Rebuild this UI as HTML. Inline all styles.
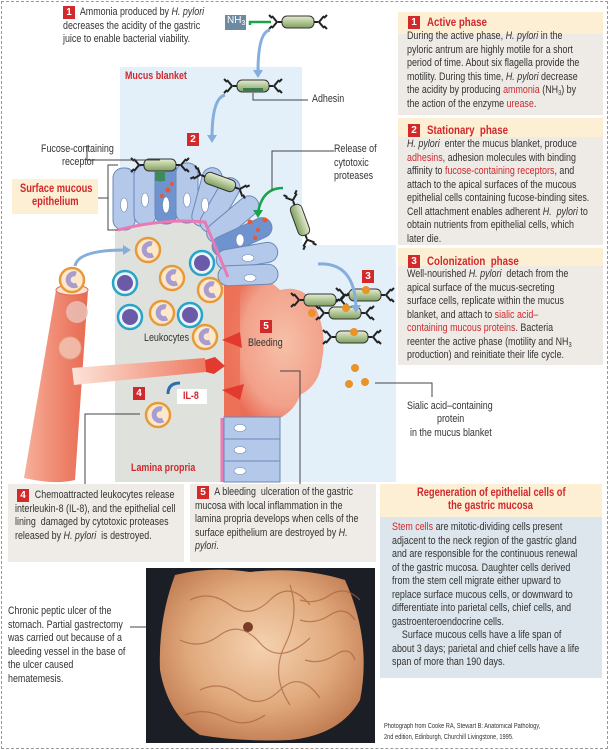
<!DOCTYPE html>
<html><head><meta charset="utf-8"><style>
html,body{margin:0;padding:0;background:#fff}
#w{position:relative;width:609px;height:750px;overflow:hidden;font-family:"Liberation Sans",sans-serif;color:#333}
.frame{position:absolute;left:1px;top:1px;width:605px;height:746px;border:1px dashed #999}
.t{position:absolute;font-size:11px;line-height:13.5px;white-space:pre;transform:scaleX(.81);transform-origin:0 0}
.r{color:#d0282e}
.b{font-weight:bold}
.bx{position:absolute}
.bd{display:inline-block;background:#d22a2a;color:#fff;font-weight:bold;font-size:10px;width:12px;height:13px;line-height:13px;text-align:center;vertical-align:top}
i{font-style:italic}
sub{font-size:7px;line-height:0;vertical-align:-2px}
</style></head><body><div id="w">
<svg width="609" height="750" style="position:absolute;left:0;top:0">
<defs>
<radialGradient id="cr" cx="0.6" cy="0.5" r="0.6"><stop offset="0" stop-color="#f7c0a8"/><stop offset="0.7" stop-color="#f2a08a"/><stop offset="1" stop-color="#ea6d55"/></radialGradient>
<linearGradient id="ves" x1="0" x2="1"><stop offset="0" stop-color="#f6b09c"/><stop offset="0.5" stop-color="#f08a72"/><stop offset="1" stop-color="#e86a52"/></linearGradient>
<linearGradient id="hv" x1="0" x2="1"><stop offset="0" stop-color="#fde3d8"/><stop offset="1" stop-color="#ee7b62"/></linearGradient>
<linearGradient id="bac" x1="0" y1="0" x2="0" y2="1"><stop offset="0" stop-color="#e6edd2"/><stop offset="1" stop-color="#7f9f5e"/></linearGradient>
<radialGradient id="ph" cx="0.5" cy="0.45" r="0.6"><stop offset="0" stop-color="#f5d2b0"/><stop offset="0.6" stop-color="#e0a97c"/><stop offset="1" stop-color="#c07a50"/></radialGradient>
<g id="bug"><path d="M-26,-6 l5,6 -5,6 M-26,-4 l-3,-3 M-26,4 l-3,3 M26,-6 l-5,6 5,6 M26,-4 l3,-3 M26,4 l3,3" stroke="#222" stroke-width="2" fill="none"/><rect x="-16" y="-6" width="32" height="12" rx="5" fill="url(#bac)" stroke="#333" stroke-width="1"/><line x1="-20" y1="0" x2="-16" y2="0" stroke="#222" stroke-width="2"/><line x1="16" y1="0" x2="20" y2="0" stroke="#222" stroke-width="2"/></g>
<g id="lo"><circle r="12" fill="#fde9c9" stroke="#e79a3a" stroke-width="2.5"/><path d="M4,-6 a6,6 0 1 0 1,11" stroke="#a89cd0" stroke-width="5" fill="none"/></g>
<g id="lb"><circle r="12" fill="#e8f6fb" stroke="#2aa3c9" stroke-width="2.5"/><circle r="8" fill="#6a5aa8"/></g>
</defs>
<rect x="120" y="67" width="182" height="415" fill="#e3f0fa"/>
<rect x="302" y="245" width="94" height="237" fill="#e3f0fa"/>
<path d="M115,229 Q160,218 205,222 L228,277 L226,482 L115,482 Z" fill="#dfe2dc"/>
<path d="M224,272 Q250,262 280,290 Q300,285 312,300 Q328,330 322,360 Q320,385 300,395 Q295,410 280,418 L224,418 Z" fill="url(#cr)"/>
<path d="M224,275 L240,275 L240,418 L224,418Z" fill="#ec7258" opacity=".8"/>
<g fill="#b4c9ea" stroke="#6d88b8" stroke-width="1">
<rect x="113" y="168" width="22" height="62" rx="10"/>
<rect x="134" y="165" width="22" height="60" rx="10"/>
<rect x="155" y="162" width="22" height="62" rx="10" fill="#6f93cf"/>
<rect x="176" y="163" width="22" height="60" rx="10"/>
<rect x="197" y="167" width="20" height="60" rx="10" transform="rotate(15 207 197)"/>
<rect x="210" y="175" width="20" height="60" rx="10" transform="rotate(30 220 205)"/>
<rect x="222" y="188" width="20" height="62" rx="10" transform="rotate(50 232 220)"/>
<rect x="232" y="205" width="20" height="64" rx="10" transform="rotate(65 242 237)" fill="#6f93cf"/>
<rect x="237" y="225" width="20" height="62" rx="10" transform="rotate(80 247 256)"/>
<rect x="238" y="245" width="20" height="60" rx="10" transform="rotate(88 248 275)"/>
</g>
<g fill="#fff" stroke="#6d88b8" stroke-width=".6">
<ellipse cx="124" cy="205" rx="3.5" ry="7"/><ellipse cx="145" cy="200" rx="3.5" ry="7"/><ellipse cx="166" cy="205" rx="3.5" ry="8"/><ellipse cx="187" cy="200" rx="3.5" ry="7"/><ellipse cx="205" cy="205" rx="3.5" ry="7"/><ellipse cx="240" cy="240" rx="4" ry="6"/><ellipse cx="248" cy="258" rx="6" ry="3.5"/><ellipse cx="250" cy="278" rx="6" ry="3.5"/>
</g>
<g fill="#e8582e"><circle cx="160" cy="180" r="2"/><circle cx="168" cy="190" r="2.5"/><circle cx="162" cy="196" r="2"/><circle cx="172" cy="184" r="2"/><circle cx="250" cy="222" r="2.5"/><circle cx="258" cy="230" r="2"/><circle cx="265" cy="220" r="2.5"/><circle cx="255" cy="238" r="2"/></g>
<path d="M118,230 Q165,218 205,222 L228,277" stroke="#e87ab5" stroke-width="3" fill="none"/>
<line x1="222" y1="418" x2="222" y2="482" stroke="#e87ab5" stroke-width="3"/>
<g fill="#b4c9ea" stroke="#6d88b8"><rect x="224" y="417" width="56" height="22"/><rect x="224" y="439" width="56" height="22"/><rect x="224" y="461" width="56" height="21"/></g>
<g fill="#fff" stroke="#6d88b8" stroke-width=".6"><ellipse cx="240" cy="428" rx="6" ry="3.5"/><ellipse cx="240" cy="450" rx="6" ry="3.5"/><ellipse cx="240" cy="471" rx="6" ry="3.5"/></g>
<path d="M56,290 L88,290 L75,480 Q55,485 24,478 Z" fill="url(#ves)"/>
<ellipse cx="72" cy="290" rx="16" ry="5" fill="#fbe2d9" stroke="#e06a50"/>
<path d="M72,368 L205,358 L206,372 L74,385 Z" fill="url(#hv)"/>
<path d="M205,360 L215,357 L225,366 L214,374 L206,372Z" fill="#e33a30"/>
<path d="M222,340 L240,332 L242,348 Z M222,390 L244,384 L240,400Z" fill="#e33a30"/>
<use href="#lo" x="148" y="250"/><use href="#lo" x="172" y="278"/><use href="#lo" x="210" y="290"/><use href="#lo" x="162" y="313"/><use href="#lo" x="205" y="337"/><use href="#lo" x="72" y="280"/><use href="#lo" x="158" y="415"/>
<use href="#lb" x="125" y="283"/><use href="#lb" x="202" y="263"/><use href="#lb" x="130" y="317"/><use href="#lb" x="190" y="315"/>
<circle cx="77" cy="312" r="11" fill="#e9c4ba" opacity=".8"/><circle cx="70" cy="348" r="11" fill="#f2c9b8" stroke="#e8b08a" opacity=".8"/>
<use href="#bug" x="298" y="22"/>
<use href="#bug" x="253" y="86"/><rect x="243" y="88" width="20" height="4" fill="#3d7a50"/>
<use href="#bug" x="160" y="165"/><rect x="155" y="171" width="10" height="10" fill="#3d8a5a"/>
<use href="#bug" transform="translate(220,182) rotate(20)"/>
<use href="#bug" transform="translate(300,220) rotate(70)"/>
<use href="#bug" x="320" y="300"/>
<use href="#bug" x="365" y="295"/><use href="#bug" x="345" y="313"/><use href="#bug" x="352" y="337"/>
<g fill="#ea9326"><circle cx="312" cy="313" r="4"/><circle cx="366" cy="290" r="4"/><circle cx="346" cy="308" r="4"/><circle cx="354" cy="332" r="4"/><circle cx="355" cy="368" r="4"/><circle cx="349" cy="384" r="4"/><circle cx="365" cy="382" r="4"/></g>
<rect x="225" y="15" width="21" height="15" fill="#6d8aa0"/>
<path d="M271,22 L250,22 L250,25" stroke="#1aa34a" stroke-width="2.5" fill="none"/>
<g stroke="#86aedc" stroke-width="3" fill="none"><path d="M270,30 Q258,32 258,72"/><path d="M225,95 Q212,98 212,138"/><path d="M75,266 Q78,250 125,250"/><path d="M318,264 Q355,262 356,308"/></g>
<g fill="#86aedc"><path d="M253,70 L263,70 L258,78Z"/><path d="M207,135 L217,135 L212,143Z"/><path d="M123,245 L131,250 L123,255Z"/><path d="M351,305 L361,305 L356,313Z"/></g>
<path d="M283,188 Q262,188 258,213" stroke="#1aa34a" stroke-width="2.5" fill="none"/><path d="M253,210 L263,210 L258,218Z" fill="#1aa34a"/>
<path d="M168,394 Q168,383 180,383" stroke="#2d6db0" stroke-width="3" fill="none"/>
<g stroke="#444" stroke-width="1" fill="none">
<path d="M253,93 V100 H308"/><path d="M87,145 V160 H160"/><path d="M334,151 H272 V190"/>
<path d="M118,165 H108 V230 H118 M98,198 H108"/>
<path d="M85,484 V414 H140"/><path d="M280,371 H300 V484"/><path d="M375,383 H432 V397"/>
<path d="M130,627 H245"/>
</g>
<rect x="177" y="389" width="30" height="15" fill="#fff"/>
<rect x="398" y="12" width="205" height="22" fill="#fcefd3"/><rect x="398" y="34" width="205" height="81" fill="#eeebe6"/>
<rect x="398" y="118" width="205" height="19" fill="#fcefd3"/><rect x="398" y="137" width="205" height="108" fill="#eeebe6"/>
<rect x="398" y="248" width="205" height="18" fill="#fcefd3"/><rect x="398" y="266" width="205" height="99" fill="#eeebe6"/>
<rect x="12" y="179" width="86" height="35" fill="#fcefd3"/>
<rect x="8" y="484" width="176" height="78" fill="#efece7"/>
<rect x="190" y="484" width="186" height="78" fill="#efece7"/>
<rect x="380" y="484" width="222" height="33" fill="#fcefd3"/>
<rect x="380" y="517" width="222" height="161" fill="#dde6ec"/>
<rect x="146" y="568" width="229" height="175" fill="#1c1e26"/>
<path d="M175,575 Q210,566 250,572 Q300,566 345,580 Q372,640 360,700 Q340,735 290,740 Q240,742 200,735 Q168,715 160,670 Q158,620 175,575Z" fill="url(#ph)"/>
<g stroke="#a8603c" stroke-width="1.2" fill="none" opacity=".7"><path d="M190,600 q20,-10 40,5 t40,-5 t40,5"/><path d="M180,640 q20,10 40,-5 t40,8 t50,-5"/><path d="M200,690 q20,-10 40,5 t40,-5 t40,8"/><path d="M290,585 q10,30 -5,60 t5,60"/><path d="M300,600 q15,5 30,-5 t30,5"/><path d="M300,620 q15,5 30,-5 t25,5"/><path d="M305,660 q15,5 30,-5 t20,5"/><path d="M185,715 q20,-8 40,3 t40,-3"/></g>
<circle cx="248" cy="627" r="5" fill="#7a3d28"/>
</svg>
<div class="frame"></div>

<span class="bd bx" style="left:63px;top:6px">1</span>
<div class="t" style="left:63px;top:6px">       Ammonia produced by <i>H. pylori</i>
decreases the acidity of the gastric
juice to enable bacterial viability.</div>
<div class="bx" style="left:227px;top:15px;color:#fff;font-size:10px">NH<sub>3</sub></div>
<div class="t r b" style="left:125px;top:70px">Mucus blanket</div>
<div class="t" style="left:312px;top:93px">Adhesin</div>
<div class="t" style="left:41px;top:143px">Fucose-containing</div>
<div class="t" style="left:62px;top:156px">receptor</div>
<div class="t" style="left:334px;top:143px">Release of
cytotoxic
proteases</div>
<div class="t r b" style="left:20px;top:183px;font-size:11.5px">Surface mucous</div>
<div class="t r b" style="left:32px;top:196px;font-size:11.5px">epithelium</div>
<span class="bd bx" style="left:187px;top:133px">2</span>
<span class="bd bx" style="left:362px;top:270px">3</span>
<span class="bd bx" style="left:260px;top:320px">5</span>
<span class="bd bx" style="left:133px;top:387px">4</span>
<div class="t" style="left:144px;top:332px">Leukocytes</div>
<div class="t" style="left:248px;top:337px">Bleeding</div>
<div class="t r b" style="left:183px;top:390px">IL-8</div>
<div class="t r b" style="left:131px;top:462px">Lamina propria</div>
<div class="t" style="left:407px;top:400px">Sialic acid–containing</div>
<div class="t" style="left:437px;top:413px">protein</div>
<div class="t" style="left:410px;top:427px">in the mucus blanket</div>

<span class="bd bx" style="left:408px;top:16px">1</span>
<div class="t r b" style="left:427px;top:16px;font-size:12px">Active phase</div>
<div class="t" style="left:407px;top:30px">During the active phase, <i>H. pylori</i> in the
pyloric antrum are highly motile for a short
period of time. About six flagella provide the
motility. During this time, <i>H. pylori</i> decrease
the acidity by producing <span class="r">ammonia</span> (NH<sub>3</sub>) by
the action of the enzyme <span class="r">urease</span>.</div>
<span class="bd bx" style="left:408px;top:124px">2</span>
<div class="t r b" style="left:427px;top:124px;font-size:12px">Stationary  phase</div>
<div class="t" style="left:407px;top:138px"><i>H. pylori</i>  enter the mucus blanket, produce
<span class="r">adhesins</span>, adhesion molecules with binding
affinity to <span class="r">fucose-containing receptors</span>, and
attach to the apical surfaces of the mucous
epithelial cells containing fucose-binding sites.
Cell attachment enables adherent <i>H.  pylori</i> to
obtain nutrients from epithelial cells, which
later die.</div>
<span class="bd bx" style="left:408px;top:255px">3</span>
<div class="t r b" style="left:427px;top:255px;font-size:12px">Colonization  phase</div>
<div class="t" style="left:407px;top:268px">Well-nourished <i>H. pylori</i>  detach from the
apical surface of the mucus-secreting
surface cells, replicate within the mucus
blanket, and attach to <span class="r">sialic acid–</span>
<span class="r">containing mucous proteins</span>. Bacteria
reenter the active phase (motility and NH<sub>3</sub>
production) and reinitiate their life cycle.</div>

<span class="bd bx" style="left:17px;top:489px">4</span>
<div class="t" style="left:15px;top:489px">        Chemoattracted leukocytes release
interleukin-8 (IL-8), and the epithelial cell
lining  damaged by cytotoxic proteases
released by <i>H. pylori</i>  is destroyed.</div>
<span class="bd bx" style="left:197px;top:486px">5</span>
<div class="t" style="left:195px;top:486px">        A bleeding  ulceration of the gastric
mucosa with local inflammation in the
lamina propria develops when cells of the
surface epithelium are destroyed by <i>H.</i>
<i>pylori</i>.</div>
<div class="t r b" style="left:417px;top:487px;font-size:11.5px">Regeneration of epithelial cells of</div>
<div class="t r b" style="left:448px;top:500px;font-size:11.5px">the gastric mucosa</div>
<div class="t" style="left:392px;top:521px"><span class="r">Stem cells</span> are mitotic-dividing cells present
adjacent to the neck region of the gastric gland
and are responsible for the continuous renewal
of the gastric mucosa. Daughter cells derived
from the stem cell migrate either upward to
replace surface mucous cells, or downward to
differentiate into parietal cells, chief cells, and
gastroenteroendocrine cells.
    Surface mucous cells have a life span of
about 3 days; parietal and chief cells have a life
span of more than 190 days.</div>
<div class="t" style="left:8px;top:605px">Chronic peptic ulcer of the
stomach. Partial gastrectomy
was carried out because of a
bleeding vessel in the base of
the ulcer caused
hematemesis.</div>
<div class="t" style="left:384px;top:721px;font-size:7px;line-height:11px">Photograph from Cooke RA, Stewart B: Anatomical Pathology,
2nd edition, Edinburgh, Churchill Livingstone, 1995.</div>
</div></body></html>
